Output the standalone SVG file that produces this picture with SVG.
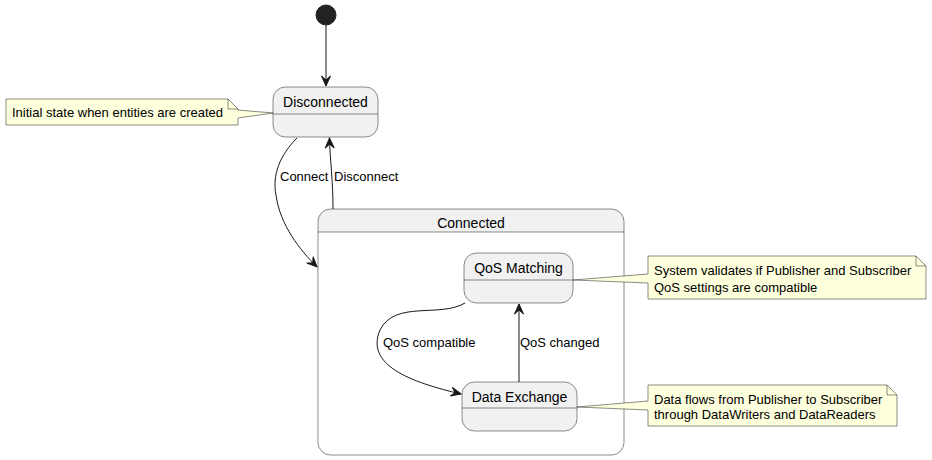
<svg xmlns="http://www.w3.org/2000/svg" width="932" height="460" viewBox="0 0 932 460">
<defs>
<style>
.st{fill:#F1F1F1;stroke:#181818;stroke-width:0.5}
.ln{stroke:#181818;stroke-width:0.5;fill:none}
.t14{font-family:"Liberation Sans",Arial,sans-serif;font-size:14px;fill:#000}
.t13{font-family:"Liberation Sans",Arial,sans-serif;font-size:13px;fill:#000}
.note{fill:#FEFFDD;stroke:#181818;stroke-width:0.5}
.edge{stroke:#181818;stroke-width:1;fill:none}
</style>
<marker id="ah" viewBox="-11 -6 12 12" refX="0" refY="0" markerWidth="12" markerHeight="12" markerUnits="userSpaceOnUse" orient="auto">
<path d="M0,0 L-10,-4.5 L-6,0 L-10,4.5 Z" fill="#181818" stroke="#181818" stroke-width="1"/>
</marker>
</defs>
<rect width="932" height="460" fill="#FFFFFF"/>

<g id="start">
<circle cx="326" cy="15" r="10" fill="#222222" stroke="#222222"/>
</g>

<g id="Disconnected">
<rect class="st" x="273" y="87" width="105" height="50" rx="12.5"/>
<line class="ln" x1="273" y1="114" x2="378" y2="114"/>
<text class="t14" x="325.5" y="107" text-anchor="middle">Disconnected</text>
</g>

<g id="Connected">
<rect x="318" y="209" width="306" height="246" rx="12.5" fill="#FFFFFF" stroke="none"/>
<path d="M318,232 V221.5 A12.5,12.5 0 0 1 330.5,209 H611.5 A12.5,12.5 0 0 1 624,221.5 V232 Z" fill="#F1F1F1" stroke="none"/>
<rect x="318" y="209" width="306" height="246" rx="12.5" fill="none" stroke="#181818" stroke-width="0.5"/>
<line class="ln" x1="318" y1="232" x2="624" y2="232"/>
<text class="t14" x="471" y="228" text-anchor="middle">Connected</text>
</g>

<g id="QoSMatching">
<rect class="st" x="464" y="253" width="109" height="50" rx="12.5"/>
<line class="ln" x1="464" y1="280" x2="573" y2="280"/>
<text class="t14" x="518.5" y="273" text-anchor="middle">QoS Matching</text>
</g>

<g id="DataExchange">
<rect class="st" x="462" y="382" width="115" height="49" rx="12.5"/>
<line class="ln" x1="462" y1="408" x2="577" y2="408"/>
<text class="t14" x="519.5" y="402" text-anchor="middle">Data Exchange</text>
</g>

<g id="note1">
<path class="note" d="M6,99 H228 L238,109 V110 L273,113 L238,118 V125 H6 Z"/>
<path class="ln" d="M228,99 V109 H238"/>
<text class="t13" x="12" y="117">Initial state when entities are created</text>
</g>

<g id="note2">
<path class="note" d="M648,256 H916 L926,266 V299 H648 V283 L573,280 L648,274 Z"/>
<path class="ln" d="M916,256 V266 H926"/>
<text class="t13" x="654" y="275">System validates if Publisher and Subscriber</text>
<text class="t13" x="654" y="292">QoS settings are compatible</text>
</g>

<g id="note3">
<path class="note" d="M648,385 H887 L897,395 V426 H648 V410 L577,407 L648,401 Z"/>
<path class="ln" d="M887,385 V395 H897"/>
<text class="t13" x="654" y="404">Data flows from Publisher to Subscriber</text>
<text class="t13" x="654" y="419">through DataWriters and DataReaders</text>
</g>

<g id="connectors">
<line class="edge" x1="326" y1="25" x2="326" y2="86" marker-end="url(#ah)"/>
<path class="edge" d="M297,138 C280,155 272,175 276,195 C280,225 300,250 317,267" marker-end="url(#ah)"/>
<text class="t13" x="280" y="181">Connect</text>
<path class="edge" d="M333,209 C333,180 330,160 329.5,138" marker-end="url(#ah)"/>
<text class="t13" x="334" y="181">Disconnect</text>
<path class="edge" d="M465,303 C440,318 395,300 380,330 C365,365 410,382 461,394" marker-end="url(#ah)"/>
<text class="t13" x="383" y="347">QoS compatible</text>
<line class="edge" x1="519" y1="382" x2="519" y2="304" marker-end="url(#ah)"/>
<text class="t13" x="520" y="347">QoS changed</text>
</g>
</svg>
